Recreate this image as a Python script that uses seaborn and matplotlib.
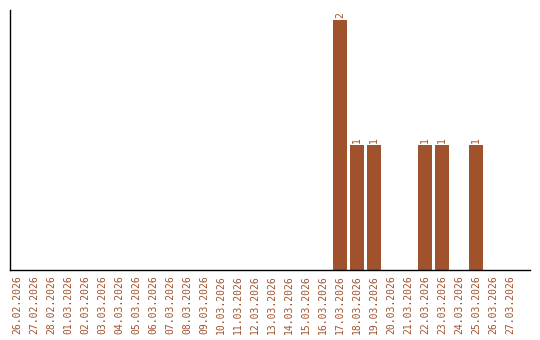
import matplotlib
matplotlib.use("Agg")
import matplotlib.pyplot as plt
import seaborn as sns
import pandas as pd

dates = ["26.02.2026", "27.02.2026", "28.02.2026", "01.03.2026", "02.03.2026",
         "03.03.2026", "04.03.2026", "05.03.2026", "06.03.2026", "07.03.2026",
         "08.03.2026", "09.03.2026", "10.03.2026", "11.03.2026", "12.03.2026",
         "13.03.2026", "14.03.2026", "15.03.2026", "16.03.2026", "17.03.2026",
         "18.03.2026", "19.03.2026", "20.03.2026", "21.03.2026", "22.03.2026",
         "23.03.2026", "24.03.2026", "25.03.2026", "26.03.2026", "27.03.2026"]
counts = [0, 0, 0, 0, 0, 0, 0, 0, 0, 0, 0, 0, 0, 0, 0, 0, 0, 0, 0, 2,
          1, 1, 0, 0, 1, 1, 0, 1, 0, 0]

color = "#a0522d"
sns.set_style("white")
plt.rcParams['font.family'] = ['DejaVu Sans Mono', 'DejaVu Sans']

df = pd.DataFrame({"date": dates, "count": counts})
fig = plt.figure(figsize=(5.4, 3.4), dpi=100)
ax = fig.add_axes([0.0185, 0.206, 0.963, 0.764])
sns.barplot(data=df, x="date", y="count", color=color, saturation=1,
            width=0.82, linewidth=0, ax=ax)
for i, v in enumerate(counts):
    if v > 0:
        ax.text(i, v + 0.02, str(v), rotation=90, ha="center", va="bottom",
                fontsize=7, color=color)
ax.set_xlim(-0.41, 30.18)
ax.set_ylim(0, 2.08)
ax.set_xlabel("")
ax.set_ylabel("")
ax.set_yticks([])
ax.tick_params(axis="x", length=0, pad=4, labelsize=7, labelcolor=color,
               rotation=90)
for s in ["top", "right"]:
    ax.spines[s].set_visible(False)
for s in ["left", "bottom"]:
    ax.spines[s].set_color("black")
    ax.spines[s].set_linewidth(1)
fig.savefig("out.png", dpi=100)
